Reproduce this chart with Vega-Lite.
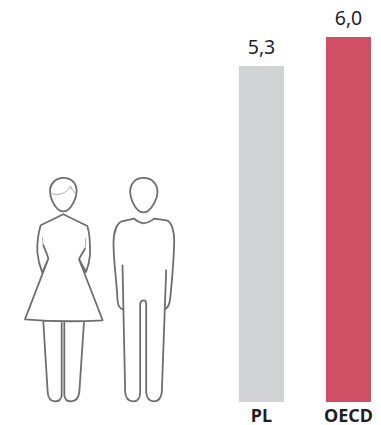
{
"$schema":"https://vega.github.io/schema/vega-lite/v6.json",
"width":381,"height":402,
"autosize":{"type":"none"},
"padding":{"left":0,"top":0,"right":0,"bottom":23},
"background":"white",
"config":{"view":{"stroke":null}},
"datasets":{
"bars":[{"region":"PL","value":5.3,"label":"5,3"},{"region":"OECD","value":6.0,"label":"6,0"}],
"people":[{"figure":"kobieta"},{"figure":"mezczyzna"}]
},
"resolve":{"scale":{"x":"independent","shape":"independent"}},
"layer":[
{"data":{"name":"bars"},
"mark":{"type":"bar","size":45},
"encoding":{
"x":{"field":"region","type":"nominal","sort":null,
"scale":{"type":"band","domain":["PL","OECD"],"range":[239,371],"paddingInner":0.4828,"paddingOuter":0},
"axis":{"title":null,"domain":false,"ticks":false,"labelAngle":0,"labelFont":"Noto Sans","labelFontWeight":"bold","labelFontSize":18,"labelColor":"#1f1f1f","labelPadding":5}},
"y":{"field":"value","type":"quantitative","scale":{"domain":[-2.82,6.893],"zero":false,"nice":false},"axis":null},
"y2":{"datum":-2.82},
"color":{"field":"region","type":"nominal","scale":{"domain":["PL","OECD"],"range":["#d1d2d4","#cf5064"]},"legend":null}
}},
{"data":{"name":"bars"},
"mark":{"type":"text","baseline":"alphabetic","dy":-12,"font":"Noto Sans","fontSize":19.5,"color":"#1f1f1f"},
"encoding":{
"x":{"field":"region","type":"nominal","sort":null,
"scale":{"type":"band","domain":["PL","OECD"],"range":[239,371],"paddingInner":0.4828,"paddingOuter":0},"axis":null},
"y":{"field":"value","type":"quantitative"},
"text":{"field":"label"}
}},
{"data":{"name":"people"},
"mark":{"type":"point","filled":false,"size":0.4444,"opacity":1,"stroke":"#6d6e71","strokeWidth":1.8,"strokeJoin":"round","strokeCap":"round"},
"encoding":{
"x":{"field":"figure","type":"nominal","scale":{"type":"point","domain":["kobieta","mezczyzna"],"range":[64,143.5],"padding":0},"axis":null},
"y":{"datum":0},
"shape":{"field":"figure","type":"nominal","legend":null,"scale":{"domain":["kobieta","mezczyzna"],"range":[
"M-2 -322C23 -322 38 -305 38 -282C38 -260 23 -235 13 -227C6 -220 -10 -220 -17 -227C-29 -237 -42 -260 -42 -282C-42 -305 -25 -322 -2 -322ZM-2 -213L70 -178C76 -160 79 -130 78 -90C76 -70 72 -55 66 -40L45 -78C52 -92 58 -100 63 -110M-2 -213L-70 -180C-76 -160 -81 -130 -80 -100C-78 -75 -72 -55 -65 -38L-47 -80C-50 -92 -56 -105 -62 -120M-47 -80L-117 102Q-2 112 116 105L45 -78M-62 110L-49 320Q-47 348 -27 348Q-9 348 -7 330L-7 112M1 112L1 330Q3 348 21 348Q43 348 46 320L60 110",
"M0 -322C25 -322 42 -305 42 -280C42 -260 28 -235 15 -224C8 -217 -8 -217 -15 -224C-28 -235 -40 -260 -40 -280C-40 -305 -25 -322 0 -322ZM-28 -200Q-15 -188 0 -186Q18 -188 32 -200L70 -195C85 -190 92 -160 92 -135C92 -80 85 -10 80 40C78 60 70 70 63 72M-28 -200L-65 -192C-80 -185 -90 -160 -90 -125C-90 -70 -80 -10 -78 45C-77 60 -70 70 -62 72M-63 -60L-55 320Q-53 348 -30 348Q-10 348 -10 320L-10 55Q-8 45 0 45Q8 45 8 55L8 320Q10 348 32 348Q52 348 55 320L68 -45"
]}}
}},
{"data":{"name":"people"},
"transform":[{"filter":"datum.figure === 'kobieta'"}],
"mark":{"type":"point","filled":false,"size":0.4444,"opacity":1,"stroke":"#8a8b8e","strokeWidth":0.7,"strokeCap":"round"},
"encoding":{
"x":{"field":"figure","type":"nominal","scale":{"type":"point","domain":["kobieta","mezczyzna"],"range":[64,143.5],"padding":0},"axis":null},
"y":{"datum":0},
"shape":{"field":"figure","type":"nominal","legend":null,"scale":{"domain":["kobieta"],"range":[
"M-37 -275C-17 -268 8 -275 20 -298C23 -288 28 -280 33 -278M-62 -120C-64 -130 -65 -138 -65 -145M63 -110C65 -120 66 -130 64 -140"
]}}
}}
]
}
